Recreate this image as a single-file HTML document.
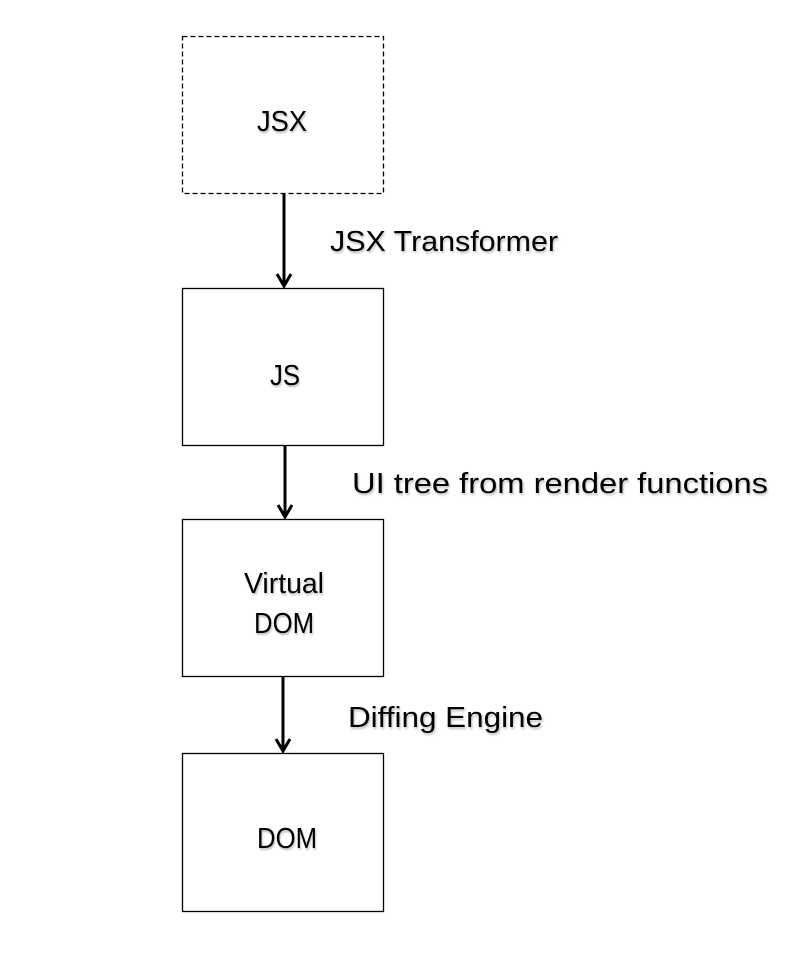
<!DOCTYPE html>
<html><head><style>html,body{margin:0;padding:0;background:#fff;}svg{display:block}</style></head>
<body>
<svg width="806" height="959" viewBox="0 0 806 959" xmlns="http://www.w3.org/2000/svg" font-family="Liberation Sans, sans-serif" font-size="29" fill="#000">
<rect x="182.5" y="36.5" width="201" height="157" fill="#fff" stroke="#000" stroke-width="1.3" stroke-dasharray="5,3"/>
<rect x="182.5" y="288.5" width="201" height="157" fill="#fff" stroke="#000" stroke-width="1.3"/>
<rect x="182.5" y="519.5" width="201" height="157" fill="#fff" stroke="#000" stroke-width="1.3"/>
<rect x="182.5" y="753.5" width="201" height="158" fill="#fff" stroke="#000" stroke-width="1.3"/>
<g stroke="#000" stroke-width="3" fill="none">
<line x1="284" y1="194" x2="284" y2="286"/>
<path d="M277,274 L284,286 L291,274"/>
<line x1="285" y1="446" x2="285" y2="517"/>
<path d="M278,505 L285,517 L292,505"/>
<line x1="283" y1="677" x2="283" y2="751"/>
<path d="M276,739 L283,751 L290,739"/>
</g>
<g style="text-shadow:1px 2px 2px rgba(0,0,0,0.25)">
<text x="282" y="131" text-anchor="middle" textLength="50" lengthAdjust="spacingAndGlyphs">JSX</text>
<text x="285" y="385" text-anchor="middle" textLength="30" lengthAdjust="spacingAndGlyphs">JS</text>
<text x="284" y="593" text-anchor="middle" textLength="80" lengthAdjust="spacingAndGlyphs">Virtual</text>
<text x="284" y="633" text-anchor="middle" textLength="60" lengthAdjust="spacingAndGlyphs">DOM</text>
<text x="287" y="848" text-anchor="middle" textLength="60" lengthAdjust="spacingAndGlyphs">DOM</text>
<text x="330" y="251" textLength="228" lengthAdjust="spacingAndGlyphs">JSX Transformer</text>
<text x="352" y="493" textLength="416" lengthAdjust="spacingAndGlyphs">UI tree from render functions</text>
<text x="348" y="727" textLength="195" lengthAdjust="spacingAndGlyphs">Diffing Engine</text>
</g>
</svg>
</body></html>
